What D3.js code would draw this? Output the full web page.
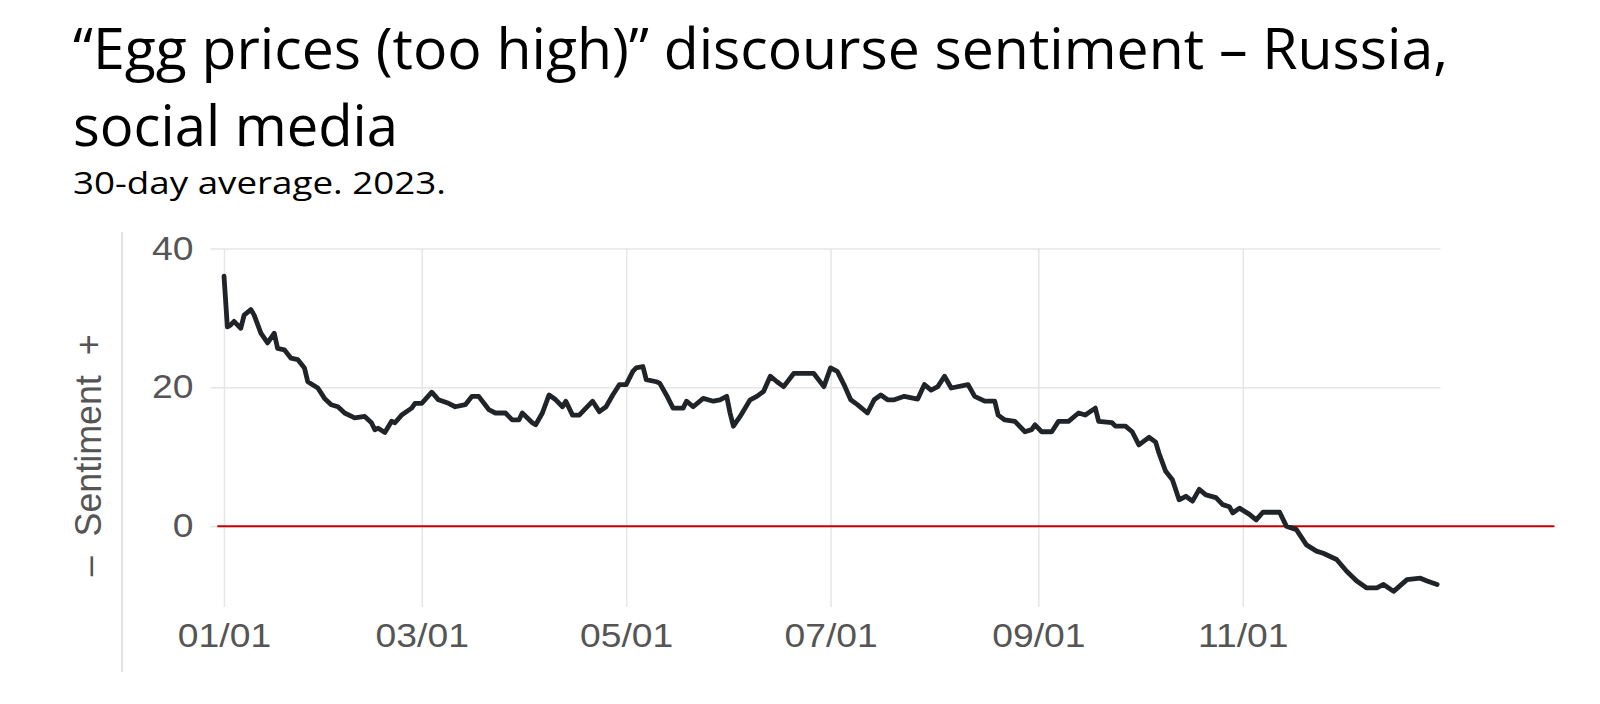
<!DOCTYPE html>
<html>
<head>
<meta charset="utf-8">
<script src="https://cdn.jsdelivr.net/npm/d3@7"></script>
<style>
  html, body { margin: 0; padding: 0; background: #fff; }
  .title { font-family: 'Open Sans', sans-serif; fill: #000; }
  .tick-label text, .axis text { font-family: 'Liberation Sans', Arial, sans-serif; fill: #555; }
  .grid line { stroke: #e6e6e6; stroke-width: 1.5; }
  .grid .domain { display: none; }
  .line { fill: none; stroke: #202428; stroke-width: 4.8; stroke-linejoin: round; stroke-linecap: round; }
</style>
</head>
<body>
<div id="chart"></div>
<script>
// Chart data (30-day average sentiment, 2023)
const year = 2023;
const dates = [
  '01-01', '01-02', '01-03', '01-04', '01-06', '01-07', '01-09', '01-10', '01-12', '01-14',
  '01-16', '01-17', '01-19', '01-21', '01-23', '01-25', '01-26', '01-29', '01-31', '02-02',
  '02-04', '02-06', '02-09', '02-12', '02-14', '02-15', '02-16', '02-18', '02-20', '02-21',
  '02-23', '02-26', '02-27', '03-01', '03-04', '03-06', '03-09', '03-11', '03-14', '03-16',
  '03-18', '03-21', '03-23', '03-26', '03-28', '03-30', '03-31', '04-03', '04-04', '04-06',
  '04-08', '04-10', '04-12', '04-13', '04-15', '04-17', '04-20', '04-21', '04-23', '04-25',
  '04-27', '04-29', '05-01', '05-03', '05-04', '05-06', '05-07', '05-10', '05-11', '05-13',
  '05-15', '05-18', '05-19', '05-21', '05-24', '05-27', '05-29', '05-31', '06-01', '06-02',
  '06-04', '06-07', '06-09', '06-11', '06-13', '06-15', '06-17', '06-20', '06-26', '06-29',
  '07-01', '07-03', '07-05', '07-07', '07-09', '07-12', '07-14', '07-16', '07-18', '07-20',
  '07-23', '07-27', '07-29', '07-31', '08-02', '08-04', '08-06', '08-11', '08-13', '08-16',
  '08-19', '08-20', '08-22', '08-25', '08-28', '08-30', '08-31', '09-02', '09-05', '09-07',
  '09-10', '09-13', '09-15', '09-18', '09-19', '09-23', '09-24', '09-27', '09-29', '10-01',
  '10-04', '10-06', '10-07', '10-09', '10-11', '10-13', '10-15', '10-17', '10-19', '10-21',
  '10-24', '10-26', '10-28', '10-29', '10-31', '11-03', '11-05', '11-07', '11-12', '11-14',
  '11-17', '11-20', '11-23', '11-25', '11-29', '12-02', '12-05', '12-08', '12-11', '12-13',
  '12-16', '12-20', '12-24', '12-26', '12-29'
];
const sentiment = [
  36.0, 28.7, 29.0, 29.5, 28.5, 30.4, 31.2, 30.4, 27.8, 26.4,
  27.8, 25.6, 25.4, 24.2, 24.0, 22.8, 20.8, 19.9, 18.4, 17.5,
  17.2, 16.3, 15.6, 15.8, 14.9, 13.9, 14.1, 13.5, 15.1, 14.9,
  16.0, 17.0, 17.7, 17.7, 19.3, 18.2, 17.7, 17.2, 17.5, 18.7,
  18.7, 16.8, 16.3, 16.3, 15.3, 15.3, 16.3, 14.9, 14.6, 16.3,
  18.9, 18.2, 17.2, 18.0, 16.0, 16.0, 17.5, 18.0, 16.5, 17.2,
  18.9, 20.4, 20.4, 22.3, 22.8, 23.0, 21.1, 20.8, 20.6, 18.9,
  17.0, 17.0, 18.0, 17.2, 18.4, 18.0, 18.2, 18.7, 16.3, 14.4,
  15.8, 18.2, 18.7, 19.4, 21.6, 20.8, 20.1, 22.0, 22.0, 20.1,
  22.8, 22.3, 20.4, 18.2, 17.5, 16.3, 18.2, 18.9, 18.2, 18.2,
  18.7, 18.3, 20.4, 19.6, 20.1, 21.6, 19.9, 20.4, 18.7, 18.0,
  18.0, 16.0, 15.3, 15.1, 13.6, 13.9, 14.6, 13.6, 13.6, 15.1,
  15.1, 16.3, 16.0, 17.0, 15.1, 14.9, 14.4, 14.4, 13.6, 11.7,
  12.8, 12.1, 10.5, 7.9, 6.7, 3.8, 4.3, 3.6, 5.3, 4.5,
  4.1, 3.1, 2.8, 1.9, 2.6, 1.7, 0.9, 2.0, 2.0, 0.0,
  -0.5, -2.7, -3.6, -3.9, -4.8, -6.5, -7.9, -8.9, -8.9, -8.4,
  -9.4, -7.7, -7.5, -7.9, -8.4
];
const yTicks = [0, 20, 40];
const xTicks = ['2023-01-01', '2023-03-01', '2023-05-01', '2023-07-01', '2023-09-01', '2023-11-01'];
const xDomain = ['2022-12-28', '2023-12-30'];
const yDomain = [-11.65, 40];
const zeroLineDates = ['2022-12-30', '2024-02-02'];

const titleLines = ['\u201cEgg prices (too high)\u201d discourse sentiment \u2013 Russia,', 'social media'];
const subtitle = '30-day average. 2023.';
const yLabel = '\u2013  Sentiment  +';

const parse = d3.timeParse('%Y-%m-%d');
const data = dates.map((d, i) => ({ date: parse(`${year}-${d}`), value: sentiment[i] }));

function drawChart() {
  const width = 1600;
  const height = 704;
  // plot box in page pixels
  const plot = { left: 210.6, right: 1440.5, top: 248.5, bottom: 607 };
  const labelStretch = 1.13; // tick labels in the source image look slightly wide

  const svg = d3.select('#chart').append('svg').attr('width', width).attr('height', height);

  // Titles
  svg.append('text').attr('class', 'title').attr('x', 73).attr('y', 69)
    .attr('font-size', 56).attr('textLength', 1375).attr('lengthAdjust', 'spacingAndGlyphs')
    .text(titleLines[0]);
  svg.append('text').attr('class', 'title').attr('x', 73).attr('y', 146)
    .attr('font-size', 56).attr('textLength', 325).attr('lengthAdjust', 'spacingAndGlyphs')
    .text(titleLines[1]);
  svg.append('text').attr('class', 'title').attr('x', 73).attr('y', 194)
    .attr('font-size', 31).attr('textLength', 373).attr('lengthAdjust', 'spacingAndGlyphs')
    .text(subtitle);

  // faint frame line on the left of the chart image
  svg.append('line').attr('x1', 122).attr('x2', 122).attr('y1', 232).attr('y2', 672)
    .attr('stroke', '#e3e3e3').attr('stroke-width', 2);

  // Scales
  const xScale = d3.scaleTime().domain(xDomain.map(parse)).range([plot.left, plot.right]);
  const yScale = d3.scaleLinear().domain(yDomain).range([plot.bottom, plot.top]);

  // Vertical gridlines + x labels
  const xAxis = svg.append('g').attr('class', 'grid axis')
    .attr('transform', `translate(0,${plot.bottom})`)
    .call(d3.axisBottom(xScale).tickValues(xTicks.map(parse))
      .tickFormat(d3.timeFormat('%m/%d')).tickSize(-(plot.bottom - yScale(40))).tickPadding(17));
  xAxis.selectAll('text').attr('font-size', 33).attr('transform', `scale(${labelStretch},1)`);

  // Horizontal gridlines + y labels
  const yAxis = svg.append('g').attr('class', 'grid axis')
    .attr('transform', `translate(${plot.left},0)`)
    .call(d3.axisLeft(yScale).tickValues(yTicks).tickSize(-(plot.right - plot.left)).tickPadding(17));
  yAxis.selectAll('text').attr('font-size', 33)
    .attr('x', -17 / labelStretch).attr('transform', `scale(${labelStretch},1)`);

  // Y axis title
  svg.append('text').attr('class', 'axis')
    .attr('transform', `translate(101,${yScale(10.2)}) rotate(-90)`)
    .attr('text-anchor', 'middle').attr('font-size', 37)
    .attr('textLength', 242).attr('lengthAdjust', 'spacingAndGlyphs')
    .style('white-space', 'pre').style('font-family', "'Liberation Sans', Arial, sans-serif").style('fill', '#555')
    .text(yLabel);

  // Zero reference line
  svg.append('line')
    .attr('x1', xScale(parse(zeroLineDates[0]))).attr('x2', xScale(parse(zeroLineDates[1])))
    .attr('y1', yScale(0)).attr('y2', yScale(0))
    .attr('stroke', '#c40000').attr('stroke-width', 2);

  // Sentiment line
  const line = d3.line().x((d) => xScale(d.date)).y((d) => yScale(d.value));
  svg.append('path').datum(data).attr('class', 'line').attr('d', line);
}
drawChart();
</script>
</body>
</html>
